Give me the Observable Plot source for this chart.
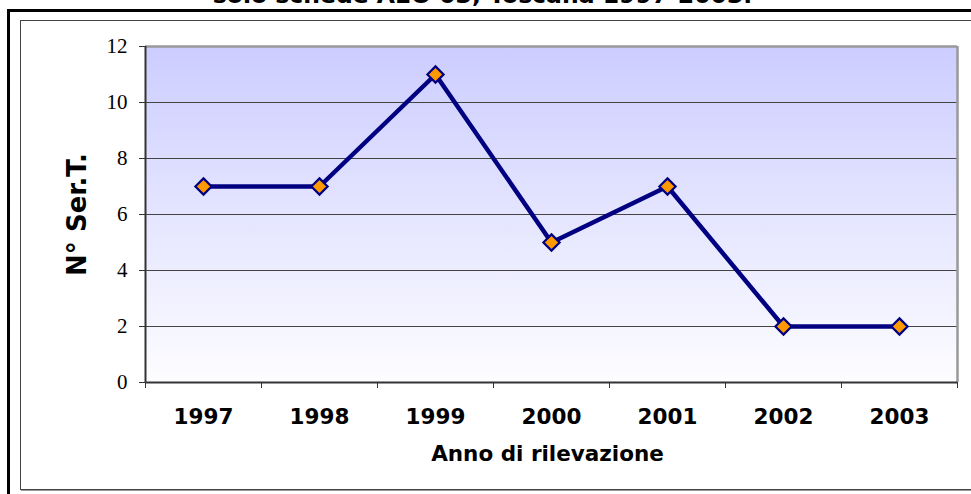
<!DOCTYPE html>
<html>
<head>
<meta charset="utf-8">
<script src="https://cdn.jsdelivr.net/npm/d3@7"></script>
<script src="https://cdn.jsdelivr.net/npm/@observablehq/plot@0.6"></script>
<style>
  html, body { margin: 0; padding: 0; background: white; overflow: hidden; }
  #wrap { position: relative; width: 971px; height: 494px; overflow: hidden; }
  .outer { position: absolute; left: 7px; top: 9px; width: 1000px; height: 600px;
           border-top: 3px solid #000; border-left: 3px solid #000; pointer-events: none; }
  .inner { position: absolute; left: 20px; top: 20px; width: 1000px; height: 468px;
           border: 1px solid #444; box-shadow: 1px 1px 0 #999; pointer-events: none; }
</style>
</head>
<body>
<div id="wrap"></div>
<script>
const title = "solo schede AEO 03, Toscana 1997-2003.";
const years = [1997, 1998, 1999, 2000, 2001, 2002, 2003];
const values = [7, 7, 11, 5, 7, 2, 2];
const yTicks = [0, 2, 4, 6, 8, 10, 12];
const gridTicks = [2, 4, 6, 8, 10];
const xBounds = [1996.5, 1997.5, 1998.5, 1999.5, 2000.5, 2001.5, 2002.5, 2003.5];
const yLabel = "N° Ser.T.";
const xLabel = "Anno di rilevazione";

const data = years.map((y, i) => ({year: y, value: values[i]}));

const defs = () => {
  const g = d3.create("svg:defs");
  const lg = g.append("linearGradient").attr("id", "bg")
    .attr("x1", 0).attr("y1", 0).attr("x2", 0).attr("y2", 1);
  lg.append("stop").attr("offset", "0%").attr("stop-color", "#cccdff");
  lg.append("stop").attr("offset", "100%").attr("stop-color", "#fdfdff");
  return g.node();
};

const sans = "DejaVu Sans, Verdana, sans-serif";

const chart = Plot.plot({
  width: 971,
  height: 494,
  marginLeft: 145,
  marginRight: 14,
  marginTop: 46,
  marginBottom: 112,
  style: {background: "transparent", overflow: "visible"},
  x: {type: "linear", domain: [1996.5, 2003.5]},
  y: {domain: [0, 12]},
  marks: [
    defs,
    Plot.frame({fill: "url(#bg)", stroke: null}),
    Plot.gridY(gridTicks, {stroke: "#444", strokeOpacity: 1, strokeWidth: 1}),
    Plot.ruleY([12], {stroke: "#999", strokeWidth: 2.5}),
    Plot.ruleX([2003.5], {stroke: "#999", strokeWidth: 2.5}),
    Plot.ruleY([0], {stroke: "#333", strokeWidth: 2}),
    Plot.ruleX([1996.5], {stroke: "#333", strokeWidth: 2}),
    Plot.axisY(yTicks, {
      tickSize: 6, tickPadding: 12, stroke: "#333",
      fontSize: 21, fontFamily: "Liberation Serif, Times New Roman, serif",
      fill: "#000", label: null
    }),
    Plot.axisX(xBounds, {tickSize: 6, tickFormat: () => "", stroke: "#333", label: null}),
    Plot.axisX(years, {
      tickSize: 0, tickPadding: 26, tickFormat: d => String(d),
      fontSize: 21.5, fontWeight: "bold", fontFamily: sans, fill: "#000", label: null
    }),
    Plot.line(data, {x: "year", y: "value", stroke: "#000080", strokeWidth: 4.5}),
    Plot.dot(data, {x: "year", y: "value", symbol: "diamond2", r: 7.3,
      fill: "#FF9900", stroke: "#000080", strokeWidth: 2.2}),
    Plot.text([xLabel], {frameAnchor: "bottom", dx: -4, dy: 78, text: d => d,
      fontSize: 21.5, fontWeight: "bold", fontFamily: sans, fill: "#000"}),
    Plot.text([yLabel], {frameAnchor: "left", textAnchor: "middle", dx: -68, rotate: -90, text: d => d,
      fontSize: 26, fontWeight: "bold", fontFamily: sans, fill: "#000"}),
    Plot.text([title], {frameAnchor: "top", dx: -69, dy: -60, text: d => d,
      fontSize: 23.5, fontWeight: "bold", fontFamily: sans, fill: "#000"})
  ]
});

const wrap = document.getElementById("wrap");
wrap.appendChild(chart);
const o = document.createElement("div"); o.className = "outer"; wrap.appendChild(o);
const inn = document.createElement("div"); inn.className = "inner"; wrap.appendChild(inn);
</script>
</body>
</html>
